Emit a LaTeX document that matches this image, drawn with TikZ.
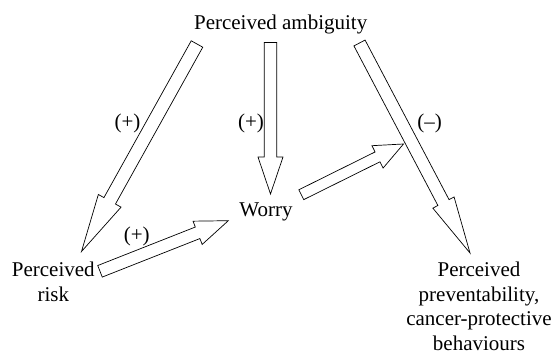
\documentclass[tikz,border=0pt]{standalone}
\usepackage{fontspec}
\setmainfont{Liberation Serif}
\usetikzlibrary{calc}
\tikzset{
  lbl/.style={inner sep=0pt, font=\fontsize{21}{24.5}\selectfont},
  txt/.style={inner sep=0pt, align=center, anchor=base, font=\fontsize{21}{24.5}\selectfont},
  blockarr/.style={draw=black, line width=0.7pt, fill=white, line join=miter}
}
\newcommand{\blockarrow}[6]{%
  \coordinate (#1hb) at ($(#3)!#6!(#2)$);
  \draw[blockarr] ($(#2)!#4!90:(#3)$) -- ($(#1hb)!#4!90:(#3)$) -- ($(#1hb)!#5!90:(#3)$) -- (#3)
    -- ($(#1hb)!#5!-90:(#3)$) -- ($(#1hb)!#4!-90:(#3)$) -- ($(#2)!#4!-90:(#3)$) -- cycle;
}
\begin{document}
\begin{tikzpicture}[x=1pt,y=1pt]
\useasboundingbox (0,0) rectangle (558,356);
% text nodes (multi-line nodes: base = last line's baseline)
\node[txt] (amb) at (280.7,326.7) {Perceived ambiguity};
\node[txt] (worry) at (266,139.5) {Worry};
\node[txt] (risk) at (53.3,54.8) {Perceived\\risk};
\node[txt] (prev) at (479,5.8) {Perceived\\preventability,\\cancer-protective\\behaviours};
% arrow end points
\coordinate (aS) at (197,312);
\coordinate (aT) at (81.5,104.5);
\coordinate (bS) at (270.5,313.5);
\coordinate (bT) at (270.5,162);
\coordinate (cS) at (359.5,313);
\coordinate (cT) at (470,103);
\coordinate (dS) at (100,84.7);
\coordinate (dT) at (228.3,135.3);
\coordinate (eS) at (301.3,161.3);
\coordinate (eT) at (403.5,212);
% block arrows
\blockarrow{a}{aS}{aT}{6.6pt}{13pt}{58pt}
\blockarrow{b}{bS}{bT}{6.2pt}{12.5pt}{37pt}
\blockarrow{c}{cS}{cT}{6.3pt}{12pt}{57pt}
\blockarrow{d}{dS}{dT}{6.2pt}{12.5pt}{33pt}
\blockarrow{e}{eS}{eT}{5.5pt}{12.5pt}{29pt}
% sign labels
\node[lbl] (la) at (127.5,232.5) {(+)};
\node[lbl] (lb) at (251,232.5) {(+)};
\node[lbl] (lc) at (429.5,233) {(–)};
\node[lbl] (ld) at (136.7,119.5) {(+)};
\end{tikzpicture}
\end{document}
